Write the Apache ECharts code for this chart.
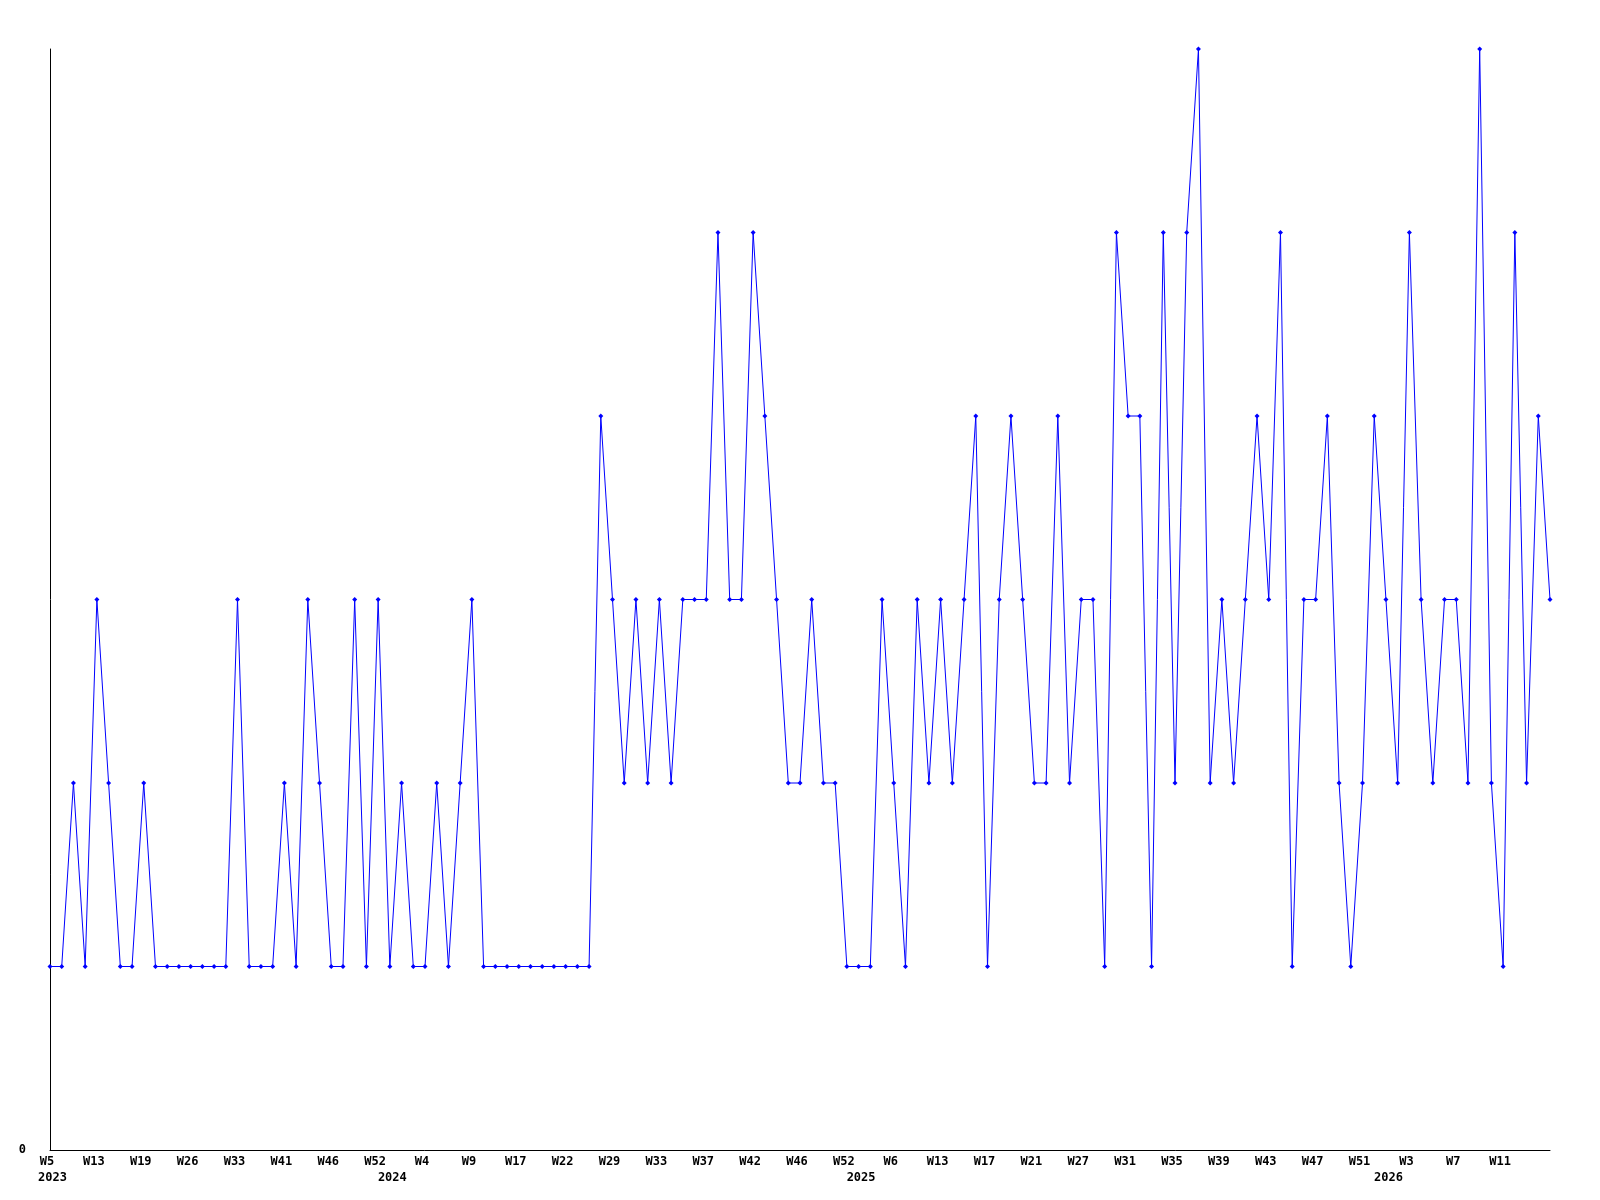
<!DOCTYPE html>
<html><head><meta charset="utf-8">
<script src="https://cdn.jsdelivr.net/npm/echarts@6/dist/echarts.min.js"></script>
<style>html,body{margin:0;padding:0;background:#fff}#c{width:1600px;height:1200px}</style>
</head><body><div id="c"></div>
<script>
// Week numbers for each data point (only every 4th is shown on the axis)
const weekNumbers = [
  5,7,9,11,13, 14,16,17,19, 21,23,24,26, 28,30,31,33, 35,37,39,41, 42,43,45,46, 48,49,51,52,
  1,2,3,4, 5,6,8,9, 11,13,15,17, 18,19,21,22, 24,26,27,29, 30,31,32,33, 34,35,36,37,
  38,39,41,42, 43,44,45,46, 48,49,50,52,
  1,3,4,6, 8,10,11,13, 14,15,16,17, 18,19,20,21, 23,24,26,27, 28,29,30,31, 32,33,34,35,
  36,37,38,39, 40,41,42,43, 44,45,46,47, 48,49,50,51, 52,
  1,2,3, 4,5,6,7, 8,9,10,11, 12,13,14,15
];
// Index where each year starts, and the year labels
const yearStartIndex = [0, 29, 69, 114];
const yearNames = ['2023', '2024', '2025', '2026'];
// Series values
const values = [
  1,1,2,1,3,2,1,1,2,
  1,1,1,1,1,1,1,
  3,1,1,1,
  2,1,3,2,1,1,3,1,3,1,
  2,1,1,2,1,2,3,
  1,1,1,1,1,1,1,1,1,1,
  4,3,2,3,2,3,2,3,3,3,
  5,3,3,5,4,3,2,2,3,2,2,
  1,1,1,
  3,2,1,3,2,3,2,3,4,
  1,3,4,3,2,2,4,2,3,3,
  1,5,4,4,1,5,2,5,6,
  2,3,2,3,4,3,5,1,3,3,4,
  2,1,2,4,3,2,5,3,2,3,
  3,2,6,2,1,5,2,4,3
];

const weekLabels = weekNumbers.map(w => 'W' + w);
const yearLabels = weekNumbers.map((w, i) => {
  const k = yearStartIndex.indexOf(i);
  return k >= 0 ? yearNames[k] : '';
});
const lastIndex = values.length - 1;

const font = {fontFamily: 'DejaVu Sans Mono', fontWeight: 'bold', fontSize: 12, color: '#000'};

const chart = echarts.init(document.getElementById('c'), null, {renderer: 'canvas'});
chart.setOption({
  animation: false,
  backgroundColor: '#fff',
  grid: {left: 50, right: 50, top: 49, bottom: 50, containLabel: false},
  xAxis: [
    {
      type: 'category', data: weekLabels, boundaryGap: false, position: 'bottom',
      axisLine: {show: true, lineStyle: {color: '#000', width: 1}},
      axisTick: {show: false},
      splitLine: {show: false},
      axisLabel: Object.assign({interval: (i) => i % 4 === 0 && i < lastIndex, margin: 6, padding: [0, 6, 0, 0]}, font)
    },
    {
      type: 'category', data: yearLabels, boundaryGap: false, position: 'bottom',
      axisLine: {show: false}, axisTick: {show: false}, splitLine: {show: false},
      axisLabel: Object.assign({interval: (i, v) => v !== '', margin: 22, padding: [0, 0, 0, 5]}, font)
    }
  ],
  yAxis: {
    type: 'value', min: 0, max: 6, interval: 1,
    axisLine: {show: true, lineStyle: {color: '#000', width: 1}},
    axisTick: {show: false},
    splitLine: {show: false},
    axisLabel: Object.assign({margin: 24, formatter: v => v === 0 ? '0' : ''}, font)
  },
  series: [{
    type: 'line', xAxisIndex: 0, data: values,
    symbol: 'diamond', symbolSize: 5, showSymbol: true, showAllSymbol: true,
    itemStyle: {color: '#0000ff'},
    lineStyle: {color: '#0000ff', width: 1}
  }]
});
</script>
</body></html>
